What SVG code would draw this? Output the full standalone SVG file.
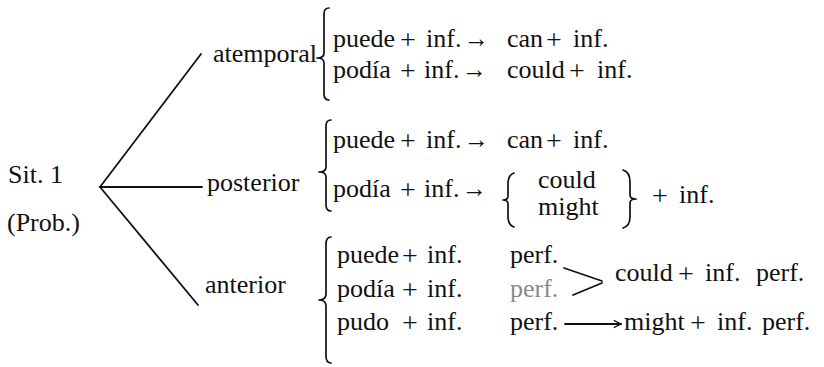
<svg xmlns="http://www.w3.org/2000/svg" width="824" height="367" viewBox="0 0 824 367">
  <style>
    text { font-family: "Liberation Serif", "DejaVu Serif", "Times New Roman", serif; font-size: 26px; fill: #111; }
    text.plus { font-size: 28px; }
    text.grey { fill: #8a8a8a; }
    .stroke { fill: none; stroke: #111; stroke-width: 1.8; stroke-linecap: round; stroke-linejoin: round; }
    .brace { fill: none; stroke: #111; stroke-width: 1.7; stroke-linecap: round; stroke-linejoin: round; }
  </style>
  <defs>
    <marker id="head" viewBox="0 0 10 10" refX="9" refY="5" markerWidth="9" markerHeight="9" markerUnits="userSpaceOnUse" orient="auto">
      <path d="M1,1 L9,5 L1,9" fill="none" stroke="#111" stroke-width="1.4"/>
    </marker>
  </defs>
  <rect width="824" height="367" fill="#ffffff"/>

  <!-- branching lines from the root -->
  <g id="connectors">
    <line class="stroke" x1="100" y1="187" x2="201" y2="54"/>
    <line class="stroke" x1="100" y1="187" x2="202" y2="187"/>
    <line class="stroke" x1="100" y1="187" x2="198" y2="305"/>
    <!-- two perfect forms merging into one -->
    <line class="stroke" x1="564" y1="268" x2="602" y2="281"/>
    <line class="stroke" x1="573" y1="295" x2="602" y2="283" stroke="#777"/>
    <!-- pudo + inf. perf. to might -->
    <line class="stroke" x1="565" y1="324" x2="621" y2="324" marker-end="url(#head)"/>
  </g>

  <g id="root">
    <text x="8" y="183">Sit.<tspan x="50">1</tspan></text>
    <text x="7" y="231">(Prob.)</text>
  </g>

  <g id="atemporal">
    <text x="213" y="62">atemporal</text>
    <path class="brace" d="M329,8 Q324,8 324,14 L324,53 Q324,58 317,58 Q324,58 324,63 L324,94 Q324,100 329,100"/>
    <text x="333" y="47">puede</text>
    <text class="plus" x="400" y="49">+</text>
    <text x="426" y="47">inf.</text>
    <text x="464" y="47" textLength="25" lengthAdjust="spacingAndGlyphs">→</text>
    <text x="507" y="47">can</text>
    <text class="plus" x="546" y="49">+</text>
    <text x="573" y="47">inf.</text>
    <text x="333" y="78">podía</text>
    <text class="plus" x="400" y="80">+</text>
    <text x="424" y="78">inf.</text>
    <text x="462" y="78" textLength="25" lengthAdjust="spacingAndGlyphs">→</text>
    <text x="507" y="78">could</text>
    <text class="plus" x="569" y="80">+</text>
    <text x="597" y="78">inf.</text>
  </g>

  <g id="posterior">
    <text x="207" y="191">posterior</text>
    <path class="brace" d="M331,120 Q326,120 326,126 L326,167 Q326,172 319,172 Q326,172 326,177 L326,205 Q326,211 331,211"/>
    <text x="333" y="148">puede</text>
    <text class="plus" x="400" y="150">+</text>
    <text x="426" y="148">inf.</text>
    <text x="464" y="148" textLength="25" lengthAdjust="spacingAndGlyphs">→</text>
    <text x="507" y="148">can</text>
    <text class="plus" x="546" y="150">+</text>
    <text x="573" y="148">inf.</text>
    <text x="333" y="197">podía</text>
    <text class="plus" x="400" y="199">+</text>
    <text x="424" y="197">inf.</text>
    <text x="462" y="197" textLength="25" lengthAdjust="spacingAndGlyphs">→</text>
    <path class="brace" d="M514,173 Q508,175 508,184 L508,196 Q508,200 503,200 Q508,200 508,204 L508,216 Q508,225 514,227"/>
    <text x="538" y="188">could</text>
    <text x="538" y="215">might</text>
    <path class="brace" d="M623,170 Q630,172 630,182 L630,195 Q630,199 636,199 Q630,199 630,203 L630,217 Q630,226 623,228"/>
    <text class="plus" x="652" y="205">+</text>
    <text x="679" y="203">inf.</text>
  </g>

  <g id="anterior">
    <text x="205" y="293">anterior</text>
    <path class="brace" d="M331,237 Q326,237 326,244 L326,294 Q326,300 319,300 Q326,300 326,306 L326,356 Q326,363 331,363"/>
    <text x="337" y="263">puede</text>
    <text class="plus" x="402" y="265">+</text>
    <text x="427" y="263">inf.</text>
    <text x="510" y="263">perf.</text>
    <text x="337" y="297">podía</text>
    <text class="plus" x="402" y="299">+</text>
    <text x="427" y="297">inf.</text>
    <text class="grey" x="510" y="297">perf.</text>
    <text x="337" y="330">pudo</text>
    <text class="plus" x="402" y="332">+</text>
    <text x="427" y="330">inf.</text>
    <text x="510" y="330">perf.</text>
    <text x="615" y="281">could</text>
    <text class="plus" x="678" y="283">+</text>
    <text x="705" y="281">inf.</text>
    <text x="756" y="281">perf.</text>
    <text x="624" y="330">might</text>
    <text class="plus" x="690" y="332">+</text>
    <text x="717" y="330">inf.</text>
    <text x="762" y="330">perf.</text>
  </g>
</svg>
